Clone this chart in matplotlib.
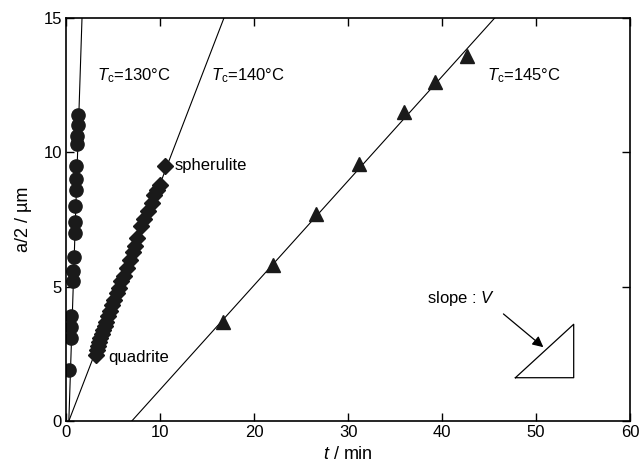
import matplotlib
matplotlib.use('Agg')
import matplotlib.pyplot as plt
import numpy as np

plt.rcParams['font.family'] = ['Liberation Sans', 'DejaVu Sans']
plt.rcParams['mathtext.fontset'] = 'custom'
plt.rcParams['mathtext.rm'] = 'Liberation Sans'
plt.rcParams['mathtext.it'] = 'Liberation Sans:italic'
plt.rcParams['font.size'] = 12

# Tc = 130 °C (circles)
t_130 = [1.25, 1.25, 1.2, 1.15, 1.1, 1.05, 1.05, 1.0, 0.95, 0.95, 0.85, 0.75, 0.7, 0.55, 0.5, 0.5, 0.35]
a_130 = [11.4, 11.0, 10.6, 10.3, 9.5, 9.0, 8.6, 8.0, 7.4, 7.0, 6.1, 5.6, 5.2, 3.9, 3.5, 3.1, 1.9]

# Tc = 140 °C (diamonds)
t_140 = [10.5, 10.0, 9.7, 9.4, 9.1, 8.7, 8.3, 8.0, 7.6, 7.3, 7.1, 6.8, 6.5, 6.2, 5.9,
         5.6, 5.4, 5.1, 4.9, 4.7, 4.5, 4.3, 4.1, 3.95, 3.8, 3.65, 3.5, 3.4, 3.3, 3.2]
a_140 = [9.5, 8.8, 8.6, 8.4, 8.1, 7.8, 7.5, 7.25, 6.8, 6.5, 6.3, 6.0, 5.7, 5.4, 5.2,
         4.95, 4.75, 4.5, 4.3, 4.1, 3.9, 3.7, 3.55, 3.4, 3.25, 3.1, 2.95, 2.8, 2.65, 2.45]

# Tc = 145 °C (triangles)
t_145 = [16.7, 22.0, 26.6, 31.2, 35.9, 39.2, 42.7]
a_145 = [3.7, 5.8, 7.7, 9.55, 11.5, 12.6, 13.6]

# linear fits: (t at a=0, t at a=15)
fit_130 = [0.3, 1.7]
fit_140 = [0.3, 16.8]
fit_145 = [7.0, 45.6]

fig, ax = plt.subplots(figsize=(6.41, 4.73), dpi=100)
fig.subplots_adjust(left=0.103, right=0.983, bottom=0.110, top=0.962)

for fit in (fit_130, fit_140, fit_145):
    ax.plot(fit, [0, 15], color='black', lw=0.8, zorder=1)

ax.plot(t_130, a_130, 'o', color='#1a1a1a', ms=9.5, mec='#1a1a1a', zorder=2)
ax.plot(t_140, a_140, 'D', color='#1a1a1a', ms=8.2, mec='#1a1a1a', zorder=2)
ax.plot(t_145, a_145, '^', color='#1a1a1a', ms=10, mec='#1a1a1a', zorder=2)

ax.text(3.3, 12.85, r'$T_\mathrm{c}$=130°C', va='center', fontsize=12)
ax.text(15.4, 12.85, r'$T_\mathrm{c}$=140°C', va='center', fontsize=12)
ax.text(44.8, 12.85, r'$T_\mathrm{c}$=145°C', va='center', fontsize=12)
ax.text(11.6, 9.5, 'spherulite', va='center', fontsize=12)
ax.text(4.5, 2.35, 'quadrite', va='center', fontsize=12)
ax.text(38.4, 4.57, r'slope : $V$', va='center', fontsize=12)

# slope triangle and arrow
ax.plot([47.8, 54.0, 54.0, 47.8], [1.61, 1.61, 3.6, 1.61], color='black', lw=0.9)
ax.annotate('', xy=(51.0, 2.68), xytext=(46.3, 4.05),
            arrowprops=dict(arrowstyle='-|>', color='black', lw=0.9, mutation_scale=16))

ax.set_xlim(0, 60)
ax.set_ylim(0, 15)
ax.set_xticks([0, 10, 20, 30, 40, 50, 60])
ax.set_yticks([0, 5, 10, 15])
ax.tick_params(direction='in', length=6, width=1, top=True, right=True, labelsize=12, pad=3)
for s in ax.spines.values():
    s.set_linewidth(1.2)

ax.set_xlabel(r'$t$ / min', fontsize=13, labelpad=4)
ax.set_ylabel('a/2 / µm', fontsize=13, labelpad=8)

fig.savefig('out.png', dpi=100)
